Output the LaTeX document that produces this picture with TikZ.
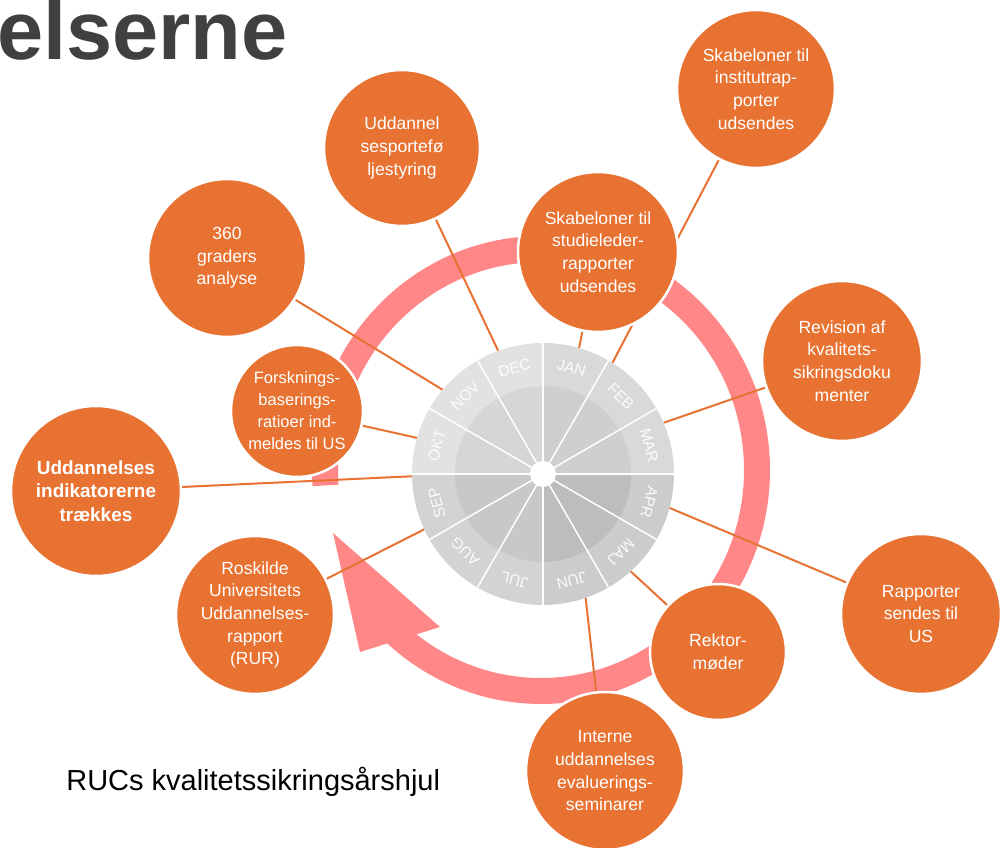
\documentclass[tikz,border=0pt]{standalone}
\usepackage{fontspec}
\setmainfont{Liberation Sans}
\usepackage{tikz}
\usetikzlibrary{backgrounds}
\definecolor{ruorange}{RGB}{232,114,50}
\definecolor{rupink}{RGB}{255,135,135}
\definecolor{titlegray}{RGB}{64,64,64}
% wheel greys: outer ring / inner disc per quadrant
\definecolor{otl}{RGB}{226,226,226}
\definecolor{otr}{RGB}{217,217,217}
\definecolor{obr}{RGB}{204,204,204}
\definecolor{obl}{RGB}{211,211,211}
\definecolor{itl}{RGB}{214,214,214}
\definecolor{itr}{RGB}{207,207,207}
\definecolor{ibr}{RGB}{189,189,189}
\definecolor{ibl}{RGB}{200,200,200}
\pgfdeclarelayer{ring}
\pgfsetlayers{ring,background,main}
\tikzset{
  event/.style={circle,fill=ruorange,draw=white,line width=0.05cm,inner sep=0pt,
    minimum size=#1,align=center,text=white,font=\fontsize{10}{12.9}\selectfont},
  event/.default=3.16cm,
  link/.style={draw=ruorange,line width=0.04cm},
  month/.style={text=white,opacity=0.92,inner sep=0pt,font=\fontsize{8.8}{8.8}\selectfont},
}

\begin{document}
\begin{tikzpicture}[x=0.02cm,y=0.02cm]

  \useasboundingbox (0,0) rectangle (1005,848);

  % title (cut by the slide edge) and caption
  \node[anchor=base west,inner sep=0pt,text=titlegray,font=\fontsize{47.2}{50}\selectfont\bfseries] at (-3,788) (title) {elserne};
  \node[anchor=base west,inner sep=0pt,font=\fontsize{16.5}{18}\selectfont] at (66,57) (caption) {RUCs kvalitetssikringsårshjul};

  % circular arrow, behind everything
  \begin{pgfonlayer}{ring}
    \draw[rupink,line width=0.52cm] ([shift={(184:216 and 221)}]541,378) arc[start angle=184,end angle=-133,x radius=216,y radius=221];
    \fill[rupink] (360,196) -- (333,315) -- (440,221) -- cycle;
  \end{pgfonlayer}

  % month wheel
  \node[circle,minimum size=5.24cm,inner sep=0pt,outer sep=0pt] at (543,374) (wheel) {};
  \foreach \m/\a/\o/\i in {JAN/75/otr/itr,FEB/45/otr/itr,MAR/15/otr/itr,
      APR/-15/obr/ibr,MAJ/-45/obr/ibr,JUN/-75/obr/ibr,
      JUL/-105/obl/ibl,AUG/-135/obl/ibl,SEP/-165/obl/ibl,
      OKT/165/otl/itl,NOV/135/otl/itl,DEC/105/otl/itl}{
    \fill[\o] (wheel.center) -- ++(\a+15:131) arc[start angle=\a+15,end angle=\a-15,radius=131] -- cycle;
    \fill[\i] (wheel.center) -- ++(\a+15:88) arc[start angle=\a+15,end angle=\a-15,radius=88] -- cycle;
    \node[month,rotate=\a-90] at ([shift={(\a:110)}]wheel.center) {\m};
  }
  \foreach \a in {0,30,...,330}
    \draw[white,line width=0.03cm] (wheel.center) -- ++(\a:131);
  \fill[white] (wheel.center) circle[radius=13];

  % events
  \node[event=3.12cm] at (402,700) (portefolje) {Uddannel\\sesportefø\\ljestyring};
  \node[event] at (227,590) (analyse) {360\\graders\\analyse};
  \node[event] at (756,759) (institut) {Skabeloner til\\institutrap-\\porter\\udsendes};
  \node[event=3.2cm] at (598,596) (studieleder) {Skabeloner til\\studieleder-\\rapporter\\udsendes};
  \node[event=3.2cm] at (842,487) (revision) {Revision af\\kvalitets-\\sikringsdoku\\menter};
  \node[event=2.64cm,font=\fontsize{9.4}{12.5}\selectfont] at (297,437) (forskning) {Forsknings-\\baserings-\\ratioer ind-\\meldes til US};
  \node[event=3.4cm,font=\fontsize{10.8}{13.3}\selectfont\bfseries] at (96,357) (indikator) {Uddannelses\\indikatorerne\\trækkes};
  \node[event] at (255,233) (rur) {Roskilde\\Universitets\\Uddannelses-\\rapport\\(RUR)};
  \node[event=3.2cm] at (921,234) (rapporter) {Rapporter\\sendes til\\US};
  \node[event=2.72cm] at (718,196) (rektor) {Rektor-\\møder};
  \node[event] at (605,77) (interne) {Interne\\uddannelses\\evaluerings-\\seminarer};

  % links from the wheel (under the circles, over the arrow)
  \begin{scope}[on background layer]
    \draw[link] (wheel.140) -- (analyse);
    \draw[link] (wheel.110) -- (portefolje);
    \draw[link] (wheel.74) -- (studieleder);
    \draw[link] (wheel.58) -- (institut);
    \draw[link] (wheel.23) -- (revision);
    \draw[link] (wheel.-15) -- (rapporter);
    \draw[link] (wheel.-48) -- (rektor);
    \draw[link] (wheel.-71) -- (interne);
    \draw[link] (wheel.-155) -- (rur);
    \draw[link] (wheel.181) -- (indikator);
    \draw[link] (wheel.164) -- (forskning);
  \end{scope}

\end{tikzpicture}
\end{document}
